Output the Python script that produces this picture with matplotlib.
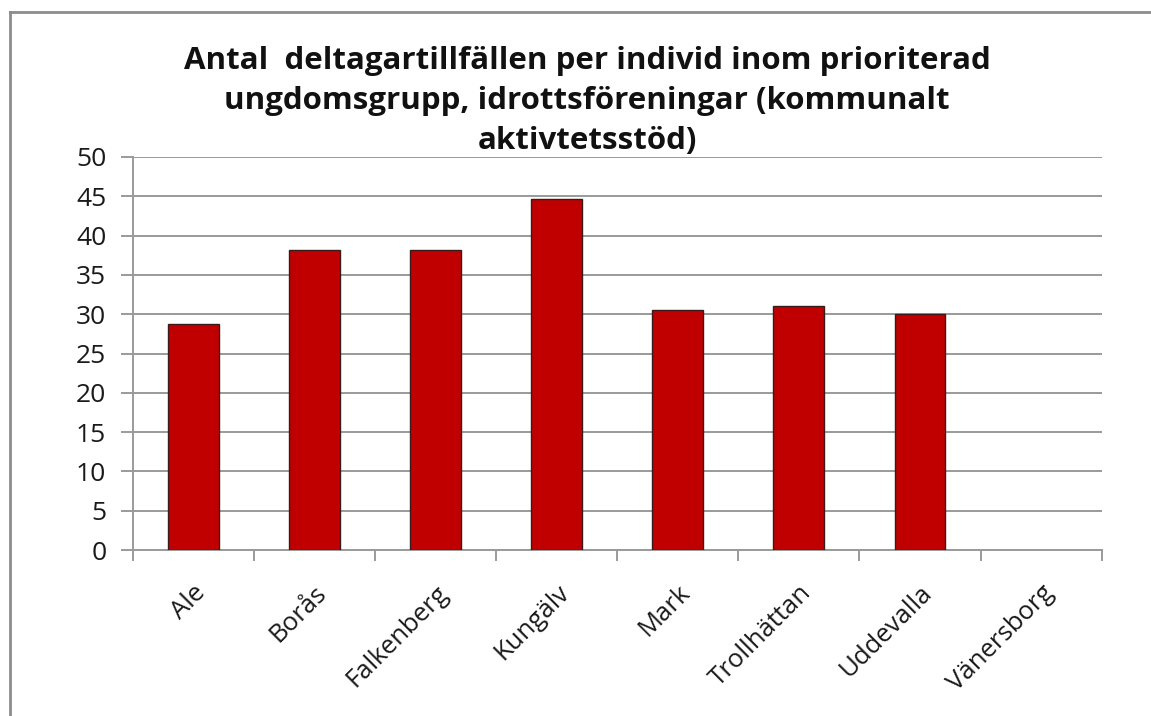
import matplotlib
matplotlib.use("Agg")
import matplotlib.pyplot as plt
from matplotlib.lines import Line2D

categories = ["Ale", "Borås", "Falkenberg", "Kungälv", "Mark", "Trollhättan", "Uddevalla", "Vänersborg"]
values = [28.8, 38.2, 38.2, 44.7, 30.5, 31.0, 30.0, 0.0]
yticks = [0, 5, 10, 15, 20, 25, 30, 35, 40, 45, 50]
title = "Antal  deltagartillfällen per individ inom prioriterad\nungdomsgrupp, idrottsföreningar (kommunalt\naktivtetsstöd)"

plt.rcParams['font.family'] = ['Open Sans', 'DejaVu Sans']

W, H = 1151, 716
fig = plt.figure(figsize=(W / 100, H / 100), dpi=100)
fig.patch.set_facecolor('white')

# outer frame (left and top)
fig.add_artist(Line2D([10 / W, 10 / W], [0, 1 - 12 / H], transform=fig.transFigure, color='#8c8c8c', lw=2))
fig.add_artist(Line2D([10 / W, 1], [1 - 12 / H, 1 - 12 / H], transform=fig.transFigure, color='#8c8c8c', lw=2))

ax = fig.add_axes([132.7 / W, 1 - 550 / H, (1101.7 - 132.7) / W, (550 - 157) / H])
x = list(range(len(categories)))
edges = ['#3a1a1a' if v > 0 else 'none' for v in values]
ax.bar(x, values, width=0.42, color='#C00000', edgecolor=edges, linewidth=1.0, zorder=3)

ax.set_xlim(-0.5, len(categories) - 0.5)
ax.set_ylim(0, 50)
ax.set_yticks(yticks)
ax.set_yticklabels([str(v) for v in yticks], fontsize=19, color='#1a1a1a')
ax.yaxis.grid(True, color='#9a9a9a', linewidth=1.4, zorder=0)
ax.tick_params(axis='y', length=9, width=1.4, color='#9a9a9a', pad=10)

ax.set_xticks([i - 0.5 for i in range(len(categories) + 1)], minor=False)
ax.set_xticklabels([''] * (len(categories) + 1))
ax.tick_params(axis='x', length=8, width=1.4, color='#9a9a9a')
ax.set_xticks(x, minor=True)
ax.set_xticklabels(categories, minor=True, rotation=45, ha='right', va='top', rotation_mode='anchor', fontsize=18.5, color='#1a1a1a')
ax.tick_params(axis='x', which='minor', length=0, pad=22)

for s in ['top', 'right']:
    ax.spines[s].set_visible(False)
for s in ['left', 'bottom']:
    ax.spines[s].set_color('#9a9a9a')
    ax.spines[s].set_linewidth(1.4)

fig.text(587 / W, 1 - 46 / H, title, ha='center', va='top', fontsize=22.5, fontweight='bold', linespacing=1.43, color='#111111')

fig.savefig('out.png', dpi=100)
